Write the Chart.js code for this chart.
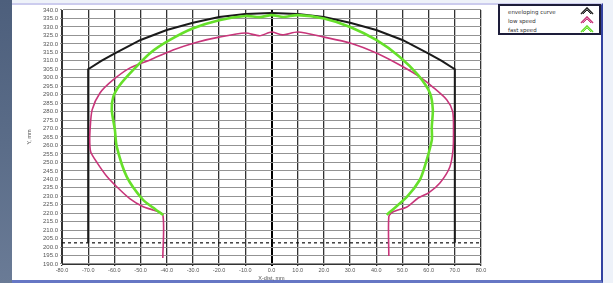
<!DOCTYPE html>
<html>
<head>
<meta charset="utf-8">
<script src="https://cdn.jsdelivr.net/npm/chart.js@4.4.1/dist/chart.umd.min.js"></script>
<style>
  html, body { margin: 0; padding: 0; }
  body { width: 613px; height: 283px; position: relative; overflow: hidden; background: #eef2f9; font-family: "DejaVu Sans", sans-serif; }
  #strip { position: absolute; left: 0; top: 0; width: 12px; height: 283px; background: linear-gradient(180deg, #4d5f7c 0%, #5a6c88 50%, #6a7b96 100%); }
  #panel { position: absolute; left: 12px; top: 3px; width: 589px; height: 275px; background: #fff; border-top: 2px solid #ccccee; border-right: 2px solid #3342a0; border-bottom: 3px solid #6677c4; }
  #wrap { position: absolute; left: 0; top: 0; width: 613px; height: 283px; }
  #legend { position: absolute; left: 498px; top: 4px; width: 99px; height: 27px; border: 2px solid #1d1d3a; background: #fff; }
  .row { position: absolute; left: 8px; font-size: 5.5px; color: #333; line-height: 6px; }
  .mk { position: absolute; left: 79px; width: 16px; height: 8px; }
</style>
</head>
<body>
<div id="strip"></div>
<div id="panel"></div>
<div id="wrap"><canvas id="chart" width="613" height="283"></canvas></div>
<div id="legend">
  <div class="row" style="top:3px">enveloping curve</div>
  <div class="row" style="top:12px">low speed</div>
  <div class="row" style="top:21px">fast speed</div>
  <svg class="mk" style="top:1px" viewBox="0 0 16 8"><polyline points="2,7 8,1 14,7" fill="none" stroke="#222" stroke-width="1.6"/><polyline points="4,7 8,3 12,7" fill="none" stroke="#222" stroke-width="1"/></svg>
  <svg class="mk" style="top:10px" viewBox="0 0 16 8"><polyline points="2,7 8,1 14,7" fill="none" stroke="#c8357a" stroke-width="1.6"/><polyline points="4,7 8,3 12,7" fill="none" stroke="#c8357a" stroke-width="1"/></svg>
  <svg class="mk" style="top:19px" viewBox="0 0 16 8"><polyline points="2,7 8,1 14,7" fill="none" stroke="#66e02a" stroke-width="1.6"/><polyline points="4,7 8,3 12,7" fill="none" stroke="#66e02a" stroke-width="1"/></svg>
</div>
<script>
// axis ranges
const xTicks = [-80, -70, -60, -50, -40, -30, -20, -10, 0, 10, 20, 30, 40, 50, 60, 70, 80];
const yMin = 190, yMax = 340, yStep = 5;

// enveloping curve
const envX = [-70, -70, -65, -60, -50, -40, -30, -20, -10, 0, 10, 20, 30, 40, 50, 60, 65, 70, 70];
const envY = [202.5, 305, 310, 314.3, 322.3, 328.2, 332.5, 335.8, 337.7, 338.3, 337.7, 335.8, 332.5, 328.2, 322.3, 314.3, 310, 305, 202.5];

// low speed
const lowX = [-41.5, -41.5, -45.3, -49, -54, -59, -63, -66.5, -69, -69.4, -69.3, -68.5, -65.5, -60.5, -54, -46.4, -37.6, -28.5, -20, -10, -4.5, 0, 4.2, 10, 20, 30, 40, 49, 56.6, 61.6, 66.9, 69.2, 69.5, 69.3, 68.1, 64.3, 60, 56, 51.7, 46.3, 44.8, 44.8];
const lowY = [193.5, 219, 221.9, 223.8, 228.5, 235.5, 242, 249.6, 256, 261.5, 269, 281, 291, 298.7, 305.8, 310.5, 316.4, 321, 324, 326.4, 324.8, 327, 325.3, 327, 324, 320.5, 314.6, 307.5, 300.5, 294.5, 287, 280, 268, 257.3, 247.3, 237.8, 232, 229, 223.7, 220.7, 218, 194.7];

// fast speed
const fastX = [-41.3, -44.5, -49, -55.3, -59.1, -59.8, -61, -60.4, -57.9, -52.8, -46.4, -38.8, -29.9, -20, -10, -4.5, 0, 4.5, 10, 20, 30, 40, 49, 56, 60.5, 61.6, 61.2, 61.2, 58.5, 56.6, 51.7, 45.2, 44];
const fastY = [218.9, 222.5, 227.8, 241.6, 259.3, 269.2, 281, 288.8, 295.7, 304.6, 314.5, 322.3, 329.2, 334, 336.5, 335.8, 337, 335.9, 337, 335, 330, 322.3, 312.3, 301.5, 291, 281, 271, 263, 247.5, 239.6, 229.6, 220.7, 219];

// reference line
const refX = [-80, 80];
const refY = [202.5, 202.5];

function pts(xs, ys) { return xs.map((x, i) => ({ x: x, y: ys[i] })); }

new Chart(document.getElementById('chart'), {
  type: 'scatter',
  data: {
    datasets: [
      { label: 'ref', data: pts(refX, refY), showLine: true, borderColor: '#111', borderWidth: 1.2, borderDash: [3, 3], pointRadius: 0, order: 4 },
      { label: 'enveloping curve', data: pts(envX, envY), showLine: true, borderColor: '#1a1a1a', borderWidth: 2, pointRadius: 0, tension: 0, order: 3 },
      { label: 'low speed', data: pts(lowX, lowY), showLine: true, borderColor: '#c8357a', borderWidth: 1.6, pointRadius: 0, tension: 0.25, order: 2 },
      { label: 'fast speed', data: pts(fastX, fastY), showLine: true, borderColor: '#66e02a', borderWidth: 2.6, pointRadius: 0, tension: 0.25, order: 1 }
    ]
  },
  options: {
    responsive: false,
    animation: false,
    events: [],
    layout: { padding: { left: 24, right: 132, top: 10, bottom: 0 } },
    plugins: { legend: { display: false }, tooltip: { enabled: false } },
    scales: {
      x: {
        type: 'linear', min: -80, max: 80,
        afterBuildTicks: s => { s.ticks = xTicks.map(v => ({ value: v })); },
        afterFit: s => { s.height = 19; },
        ticks: { autoSkip: false, maxRotation: 0, padding: 1, color: '#555', font: { size: 5.5 }, callback: v => v.toFixed(1) },
        grid: {
          color: c => (c.tick && c.tick.value === 0) ? '#000' : '#333',
          lineWidth: c => (c.tick && c.tick.value === 0) ? 2 : 1.3,
          tickLength: 2
        },
        border: { color: '#333' },
        title: { display: true, text: 'X-dist, mm', color: '#555', font: { size: 5.5 }, padding: { top: 0, bottom: 1 } }
      },
      y: {
        type: 'linear', min: yMin, max: yMax,
        ticks: { stepSize: yStep, autoSkip: false, padding: 2, color: '#555', font: { size: 6 }, callback: v => v.toFixed(1) },
        afterFit: s => { s.width = 38; },
        grid: { color: '#939393', lineWidth: 1.1, tickLength: 2 },
        border: { color: '#333' },
        title: { display: true, text: 'Y, mm', color: '#555', font: { size: 5.5 }, padding: { top: 2, bottom: 0 } }
      }
    }
  }
});
</script>
</body>
</html>
